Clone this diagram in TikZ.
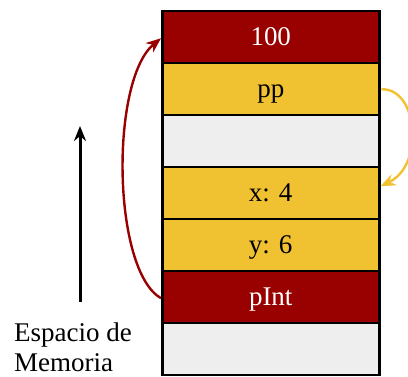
\documentclass[tikz,border=0pt]{standalone}
\usepackage{fontspec}
\setmainfont{Liberation Serif}
\usetikzlibrary{arrows.meta}
\definecolor{dred}{HTML}{990000}
\definecolor{myyel}{HTML}{F0C232}
\definecolor{lgray}{HTML}{EEEEEE}
\begin{document}
\begin{tikzpicture}[x=1pt,y=-1pt,
  cell/.style={draw=black,line width=2.5pt,minimum width=217pt,minimum height=52pt,inner sep=0pt,font=\fontsize{27}{30}\selectfont,text height=20pt,text depth=4pt,anchor=north west},
  redc/.style={cell,fill=dred,text=white},
  yelc/.style={cell,fill=myyel,text=black},
  grayc/.style={cell,fill=lgray},
  arr/.style={line width=2.4pt,-{Stealth[length=15pt,width=12pt]}}]
\useasboundingbox (0,0) rectangle (408,377);
\node[redc] (c100) at (161,10) {100};
\node[yelc] (pp) at (161,62) {pp};
\node[grayc] (e1) at (161,114) {};
\node[yelc] (x) at (161,166) {x: 4};
\node[yelc] (y) at (161,218) {y: 6};
\node[redc] (pint) at (161,270) {pInt};
\node[grayc] (e2) at (161,322) {};
\draw[arr,myyel] ([xshift=1pt]pp.east) .. controls (418,88) and (425,165) .. ([yshift=7pt]x.east);
\draw[arr,dred] ([yshift=-1pt]pint.west) .. controls (112,270) and (110,80) .. ([yshift=-1pt]c100.west);
\coordinate (abot) at (80,302);
\coordinate (atop) at (80,126);
\draw[arr,black,line width=3pt] (abot) -- (atop);
\node[font=\fontsize{27}{30}\selectfont,align=left,anchor=north west,inner sep=0pt] (lbl) at (14,323) {Espacio de\\Memoria};
\end{tikzpicture}
\end{document}
